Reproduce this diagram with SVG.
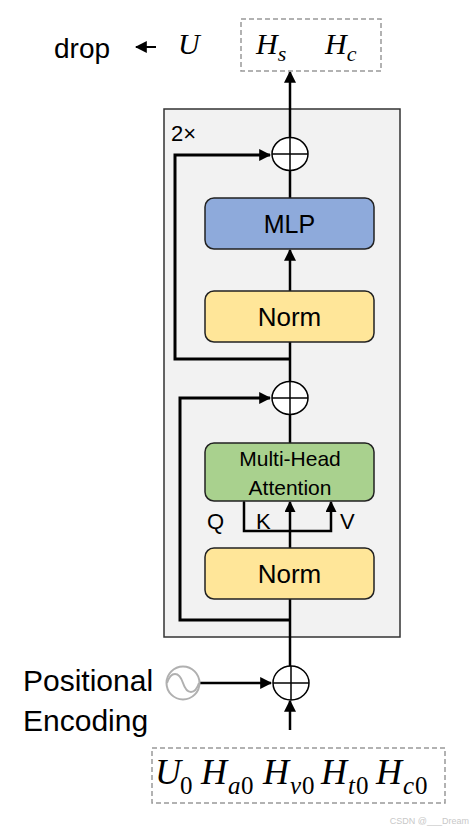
<svg xmlns="http://www.w3.org/2000/svg" width="471" height="832" viewBox="0 0 471 832">
<style>
.lbl{font-family:"Liberation Sans",Arial,sans-serif;fill:#000}
.math{font-family:"Liberation Serif","DejaVu Serif",serif;font-style:italic;fill:#000}
.box{stroke:#222;stroke-width:1.5}
.ln{fill:none;stroke:#000;stroke-width:2.5}
.sk{fill:none;stroke:#000;stroke-width:3}
.dash{fill:none;stroke:#999;stroke-width:1.5;stroke-dasharray:5,3}
.add{fill:#fff;stroke:#000;stroke-width:1.5}
.sub{font-size:25px}
.up{font-style:normal}
</style>
<defs>
<marker id="ahb" viewBox="0 0 10 10" refX="9" refY="5" markerWidth="12" markerHeight="12" orient="auto" markerUnits="userSpaceOnUse">
<path d="M0,0 L10,5 L0,10 z" fill="#000"/>
</marker>
<marker id="ahs" viewBox="0 0 10 10" refX="9" refY="5" markerWidth="11" markerHeight="11" orient="auto" markerUnits="userSpaceOnUse">
<path d="M0,0 L10,5 L0,10 z" fill="#000"/>
</marker>
</defs>
<rect width="471" height="832" fill="#fff"/>

<g id="encoder-block">
<rect x="164" y="109" width="236" height="528" fill="#f2f2f2" stroke="#333" stroke-width="1.5"/>
<text class="lbl" x="171" y="141" font-size="22">2×</text>
</g>

<g id="connectors">
<line class="ln" x1="290" y1="138" x2="290" y2="72" marker-end="url(#ahb)"/>
<line class="ln" x1="290" y1="198" x2="290" y2="170"/>
<line class="ln" x1="290" y1="291" x2="290" y2="250" marker-end="url(#ahb)"/>
<line class="ln" x1="290" y1="382" x2="290" y2="342"/>
<polyline class="sk" points="290,359 175,359 175,155 270,155" marker-end="url(#ahb)"/>
<line class="ln" x1="290" y1="443" x2="290" y2="414"/>
<line class="ln" x1="290" y1="548" x2="290" y2="502" marker-end="url(#ahs)"/>
<polyline class="ln" points="244,502 244,531 331,531 331,502" marker-start="url(#ahs)" marker-end="url(#ahs)"/>
<line class="ln" x1="290" y1="666" x2="290" y2="599"/>
<polyline class="sk" points="290,620 180,620 180,398 270,398" marker-end="url(#ahb)"/>
<line class="ln" x1="200" y1="683" x2="271" y2="683" marker-end="url(#ahb)"/>
<line class="ln" x1="290" y1="730" x2="290" y2="701" marker-end="url(#ahb)"/>
<line x1="156" y1="47" x2="136" y2="47" stroke="#000" stroke-width="2" marker-end="url(#ahb)"/>
</g>

<g id="add-top">
<ellipse class="add" cx="290" cy="154" rx="18" ry="16.5"/>
<line x1="272" y1="154" x2="308" y2="154" stroke="#000" stroke-width="1.5"/>
<line x1="290" y1="137.5" x2="290" y2="170.5" stroke="#000" stroke-width="1.5"/>
</g>
<g id="mlp">
<rect class="box" x="205" y="198" width="169" height="51" rx="9" fill="#8eaadb"/>
<text class="lbl" x="289.5" y="233" font-size="25" text-anchor="middle">MLP</text>
</g>
<g id="norm2">
<rect class="box" x="205" y="291" width="169" height="51" rx="9" fill="#ffe699"/>
<text class="lbl" x="289.5" y="326" font-size="26" text-anchor="middle">Norm</text>
</g>
<g id="add-mid">
<ellipse class="add" cx="290" cy="398" rx="18" ry="16.5"/>
<line x1="272" y1="398" x2="308" y2="398" stroke="#000" stroke-width="1.5"/>
<line x1="290" y1="381.5" x2="290" y2="414.5" stroke="#000" stroke-width="1.5"/>
</g>
<g id="mha">
<rect class="box" x="205" y="443" width="169" height="58" rx="9" fill="#a9d18e"/>
<text class="lbl" x="290" y="466" font-size="21" text-anchor="middle">Multi-Head</text>
<text class="lbl" x="290" y="495" font-size="21" text-anchor="middle">Attention</text>
</g>
<g id="qkv-labels">
<text class="lbl" x="207" y="529" font-size="22">Q</text>
<text class="lbl" x="256" y="529" font-size="22">K</text>
<text class="lbl" x="340" y="529" font-size="22">V</text>
</g>
<g id="norm1">
<rect class="box" x="205" y="548" width="169" height="51" rx="9" fill="#ffe699"/>
<text class="lbl" x="289.5" y="583" font-size="26" text-anchor="middle">Norm</text>
</g>
<g id="add-bottom">
<ellipse class="add" cx="291" cy="683" rx="18" ry="17"/>
<line x1="273" y1="683" x2="309" y2="683" stroke="#000" stroke-width="1.5"/>
<line x1="291" y1="666" x2="291" y2="700" stroke="#000" stroke-width="1.5"/>
</g>
<g id="positional-encoding">
<text class="lbl" x="23" y="691" font-size="30">Positional</text>
<text class="lbl" x="23" y="731" font-size="30">Encoding</text>
<circle cx="183" cy="683" r="16.5" fill="#fff" stroke="#b0b0b0" stroke-width="2"/>
<path d="M167,683 C171,671 179,671 183,683 C187,695 195,695 199,683" fill="none" stroke="#b0b0b0" stroke-width="2"/>
</g>
<g id="output">
<rect class="dash" x="241" y="19" width="140" height="52"/>
<text class="math" x="256" y="54" font-size="30">H<tspan font-size="22" dy="7">s</tspan></text>
<text class="math" x="325" y="54" font-size="30">H<tspan font-size="22" dy="7">c</tspan></text>
</g>
<g id="drop">
<text class="lbl" x="54" y="58" font-size="28">drop</text>
<text class="math" x="178" y="54" font-size="30">U</text>
</g>
<g id="input">
<rect class="dash" x="152" y="748" width="293" height="55"/>
<text class="math" font-size="36" y="784"><tspan x="155">U</tspan><tspan class="sub up" x="180" dy="10">0</tspan><tspan x="201" dy="-10">H</tspan><tspan class="sub" x="228" dy="10">a</tspan><tspan class="sub up" x="241">0</tspan><tspan x="263" dy="-10">H</tspan><tspan class="sub" x="290" dy="10">v</tspan><tspan class="sub up" x="302">0</tspan><tspan x="321" dy="-10">H</tspan><tspan class="sub" x="348" dy="10">t</tspan><tspan class="sub up" x="356">0</tspan><tspan x="376" dy="-10">H</tspan><tspan class="sub" x="403" dy="10">c</tspan><tspan class="sub up" x="415">0</tspan></text>
</g>
<text class="lbl" x="469" y="824" font-size="9" style="fill:#c8c8c8" text-anchor="end">CSDN @___Dream</text>
</svg>
